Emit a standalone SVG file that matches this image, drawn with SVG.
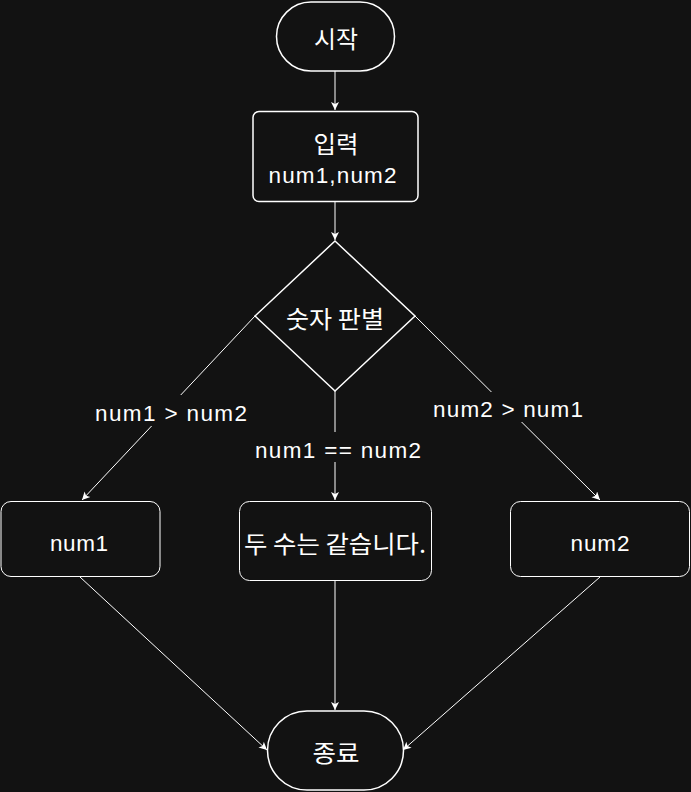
<svg xmlns="http://www.w3.org/2000/svg" width="691" height="792" viewBox="0 0 691 792">
<style>
.bg{fill:#121212}
.n{fill:#121212;stroke:#ffffff}
.t{fill:#ffffff;font-family:"Liberation Sans","Noto Sans CJK KR",sans-serif;font-size:22.5px;text-anchor:middle}
.k{fill:#ffffff;font-family:"Noto Sans CJK KR","Liberation Sans",sans-serif;font-size:24px;text-anchor:middle}
.c{fill:none;stroke:#ffffff;stroke-width:1}
</style>
<defs>
<marker id="arr" markerUnits="userSpaceOnUse" markerWidth="10" markerHeight="10" refX="9" refY="4" orient="auto">
<path d="M1,0 L9,4 L1,8 L3,4 z" fill="#ffffff"/>
</marker>
</defs>
<rect class="bg" x="0" y="0" width="691" height="792"/>
<g id="connectors">
<line class="c" x1="335" y1="71" x2="335" y2="110" marker-end="url(#arr)"/>
<line class="c" x1="335" y1="202" x2="335" y2="240" marker-end="url(#arr)"/>
<line class="c" x1="255" y1="316" x2="82" y2="500" marker-end="url(#arr)"/>
<line class="c" x1="335" y1="391" x2="335" y2="500" marker-end="url(#arr)"/>
<line class="c" x1="415" y1="316" x2="600" y2="500" marker-end="url(#arr)"/>
<line class="c" x1="80" y1="577" x2="267" y2="750" marker-end="url(#arr)"/>
<line class="c" x1="335" y1="581" x2="335" y2="710" marker-end="url(#arr)"/>
<line class="c" x1="600" y1="577" x2="403" y2="750" marker-end="url(#arr)"/>
<rect class="bg" x="93" y="395" width="156" height="31"/>
<text class="t" x="171" y="421" textLength="152">num1 &gt; num2</text>
<rect class="bg" x="253" y="432" width="170" height="30"/>
<text class="t" x="338" y="458" textLength="166">num1 == num2</text>
<rect class="bg" x="431" y="392" width="154" height="30"/>
<text class="t" x="508" y="417" textLength="150">num2 &gt; num1</text>
</g>
<g id="start">
<rect class="n" stroke-width="1.5" x="276.5" y="2" width="118" height="69" rx="34.5"/>
<text class="k" x="336" y="47.5" textLength="44" lengthAdjust="spacingAndGlyphs">시작</text>
</g>
<g id="input">
<rect class="n" stroke-width="1.5" x="253" y="111.5" width="165" height="90" rx="6"/>
<text class="k" x="336" y="153" textLength="45" lengthAdjust="spacingAndGlyphs">입력</text>
<text class="t" x="332.5" y="183" textLength="128">num1,num2</text>
</g>
<g id="decision">
<polygon class="n" stroke-width="1.5" points="335,241 415,316 335,391 255,316"/>
<text class="k" x="335" y="328" textLength="98" lengthAdjust="spacingAndGlyphs">숫자 판별</text>
</g>
<g id="out1">
<rect class="n" x="1" y="501.5" width="159" height="75" rx="10"/>
<text class="t" x="79" y="551" textLength="58">num1</text>
</g>
<g id="equal">
<rect class="n" x="239.5" y="501.5" width="192" height="79" rx="10"/>
<text class="k" x="335" y="552.5" textLength="182" lengthAdjust="spacingAndGlyphs">두 수는 같습니다.</text>
</g>
<g id="out2">
<rect class="n" x="510.5" y="501.5" width="179" height="75" rx="10"/>
<text class="t" x="600" y="551" textLength="59">num2</text>
</g>
<g id="end">
<rect class="n" stroke-width="1.5" x="267.5" y="711" width="136" height="79" rx="39.5"/>
<text class="k" x="336" y="762" textLength="47" lengthAdjust="spacingAndGlyphs">종료</text>
</g>
</svg>
